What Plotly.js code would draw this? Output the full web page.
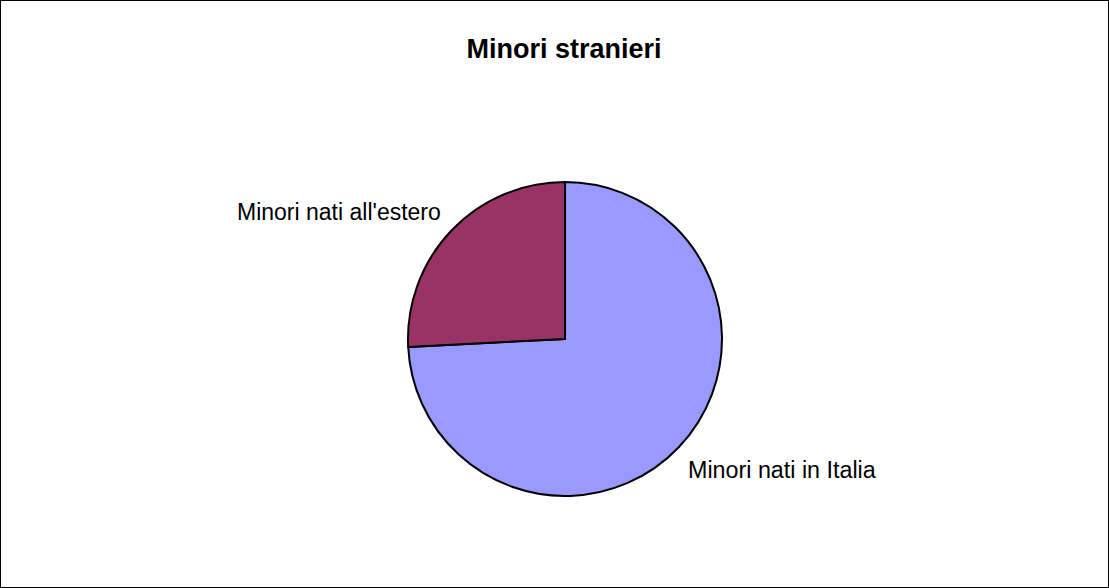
<!DOCTYPE html>
<html>
<head>
<meta charset="utf-8">
<script src="https://cdn.plot.ly/plotly-3.0.1.min.js"></script>
<style>
html,body{margin:0;padding:0;background:#fff;}
#chart{width:1109px;height:588px;}
#frame{position:fixed;left:0;top:0;width:1109px;height:588px;box-sizing:border-box;border:1px solid #000;pointer-events:none;}
</style>
</head>
<body>
<div id="chart"></div>
<div id="frame"></div>
<script>
const labels = ["Minori nati in Italia", "Minori nati all'estero"];
const values = [74.2, 25.8];
const colors = ["#9999FF", "#993366"];

const trace = {
  type: 'pie',
  labels: labels,
  values: values,
  sort: false,
  direction: 'clockwise',
  rotation: 0,
  textinfo: 'none',
  hoverinfo: 'label+value',
  marker: {colors: colors, line: {color: '#000', width: 2}},
  domain: {x: [408/1109, 722/1109], y: [92/588, 406/588]},
  showlegend: false
};

const layout = {
  width: 1109,
  height: 588,
  margin: {l: 0, r: 0, t: 0, b: 0},
  paper_bgcolor: '#fff',
  font: {family: 'Liberation Sans, Arial, sans-serif', color: '#000'},
  title: {text: '<b>Minori stranieri</b>', font: {size: 27, family: 'Liberation Sans, Arial, sans-serif', color: '#000'}, x: 564/1109, xanchor: 'center', y: 1 - 49/588, yanchor: 'middle'},
  annotations: [
    {text: labels[1], xref: 'paper', yref: 'paper', x: 443/1109, y: 1 - 212/588, xanchor: 'right', yanchor: 'middle', showarrow: false, font: {size: 23}},
    {text: labels[0], xref: 'paper', yref: 'paper', x: 686/1109, y: 1 - 470/588, xanchor: 'left', yanchor: 'middle', showarrow: false, font: {size: 23.3}}
  ]
};

Plotly.newPlot('chart', [trace], layout, {displayModeBar: false, staticPlot: true});
</script>
</body>
</html>
